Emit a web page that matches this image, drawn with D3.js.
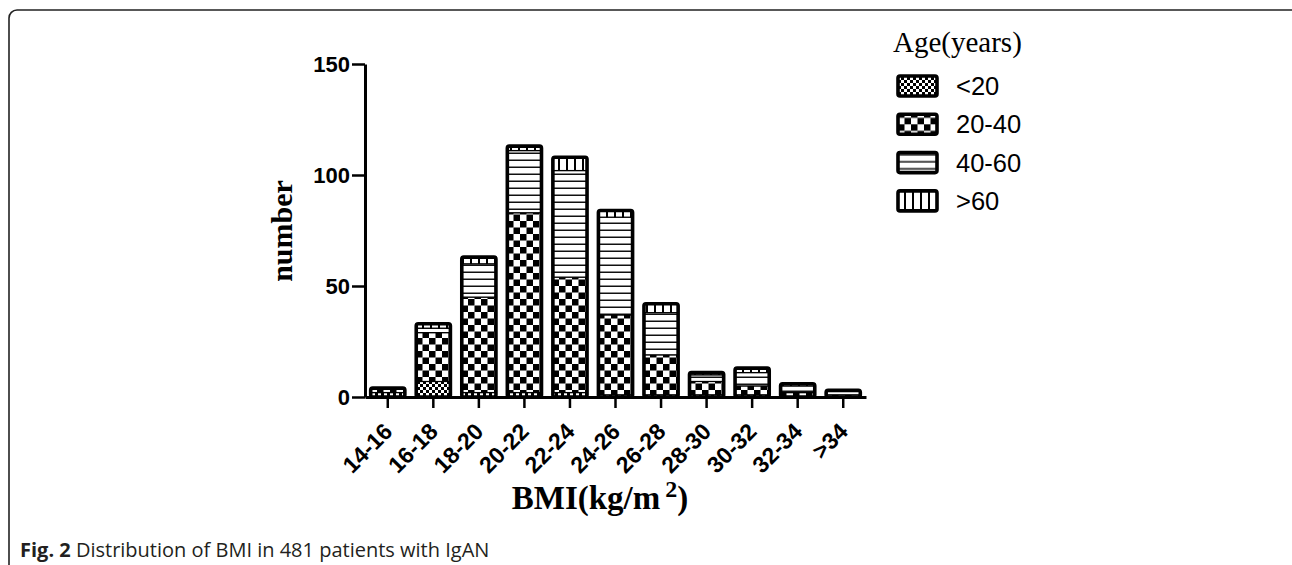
<!DOCTYPE html>
<html>
<head>
<meta charset="utf-8">
<script src="https://cdn.jsdelivr.net/npm/d3@7"></script>
<style>
  html, body { margin: 0; padding: 0; background: #fff; }
  svg { display: block; }
</style>
</head>
<body>
<svg id="chart" width="1292" height="565"></svg>
<script>
// BMI classes and counts per age group (bottom to top of each stack)
const categories = ['14-16', '16-18', '18-20', '20-22', '22-24', '24-26', '26-28', '28-30', '30-32', '32-34', '>34']
const under20 = [2, 7, 2, 2, 2, 1, 1, 1, 1, 0, 0]
const age20to40 = [2, 22, 43, 81, 52, 36, 18, 6, 4, 2, 1]
const age40to60 = [0, 2, 15, 28, 48, 44, 19, 3, 6, 3, 2]
const over60 = [0, 2, 3, 2, 6, 3, 4, 1, 2, 1, 0]
const groupNames = ['<20', '20-40', '40-60', '>60']
const yTicks = [0, 50, 100, 150]

const sans = '"Liberation Sans", Arial, sans-serif'
const serif = '"Liberation Serif", "Times New Roman", serif'

const svg = d3.select('#chart')

// frame round the figure
svg.append('rect')
  .attr('x', 9).attr('y', 10)
  .attr('width', 1290).attr('height', 620)
  .attr('rx', 8)
  .attr('fill', 'none')
  .attr('stroke', '#222')
  .attr('stroke-width', 1.6)

// fill patterns, one per age group
const defs = svg.append('defs')
const patternIds = ['p-under20', 'p-20-40', 'p-40-60', 'p-over60']

const pFine = defs.append('pattern').attr('id', patternIds[0])
  .attr('patternUnits', 'userSpaceOnUse').attr('width', 6).attr('height', 6)
pFine.append('rect').attr('width', 6).attr('height', 6).attr('fill', '#fff')
pFine.append('rect').attr('width', 3).attr('height', 3).attr('fill', '#000')
pFine.append('rect').attr('x', 3).attr('y', 3).attr('width', 3).attr('height', 3).attr('fill', '#000')

const pCheck = defs.append('pattern').attr('id', patternIds[1])
  .attr('patternUnits', 'userSpaceOnUse').attr('width', 13).attr('height', 13)
pCheck.append('rect').attr('width', 13).attr('height', 13).attr('fill', '#fff')
pCheck.append('rect').attr('width', 6.5).attr('height', 6.5).attr('fill', '#000')
pCheck.append('rect').attr('x', 6.5).attr('y', 6.5).attr('width', 6.5).attr('height', 6.5).attr('fill', '#000')

const pHoriz = defs.append('pattern').attr('id', patternIds[2])
  .attr('patternUnits', 'userSpaceOnUse').attr('width', 8).attr('height', 7)
pHoriz.append('rect').attr('width', 8).attr('height', 7).attr('fill', '#fff')
pHoriz.append('rect').attr('y', 5.5).attr('width', 8).attr('height', 1.5).attr('fill', '#111')

const pVert = defs.append('pattern').attr('id', patternIds[3])
  .attr('patternUnits', 'userSpaceOnUse').attr('width', 8).attr('height', 8)
pVert.append('rect').attr('width', 8).attr('height', 8).attr('fill', '#fff')
pVert.append('rect').attr('x', 6).attr('width', 2).attr('height', 8).attr('fill', '#000')

// scales
const x = d3.scaleBand()
  .domain(categories)
  .range([365, 866])
  .paddingInner(0.25)
  .paddingOuter(0.125)

const y = d3.scaleLinear()
  .domain([0, 150])
  .range([397, 64])

// stacked data
const rows = categories.map((c, i) => ({
  cat: c, g0: under20[i], g1: age20to40[i], g2: age40to60[i], g3: over60[i]
}))
const stack = d3.stack().keys(['g0', 'g1', 'g2', 'g3'])
const series = stack(rows)

const barsG = svg.append('g')

series.forEach((s, si) => {
  barsG.append('g')
    .selectAll('rect')
    .data(s)
    .join('rect')
      .attr('x', d => x(d.data.cat))
      .attr('width', x.bandwidth())
      .attr('y', d => y(d[1]))
      .attr('height', d => y(d[0]) - y(d[1]))
      .attr('fill', `url(#${patternIds[si]})`)
      .attr('stroke', '#000')
      .attr('stroke-width', 1.2)
})

// thick outline round each whole bar
barsG.append('g')
  .selectAll('rect')
  .data(rows)
  .join('rect')
    .attr('x', d => x(d.cat))
    .attr('width', x.bandwidth())
    .attr('y', d => y(d.g0 + d.g1 + d.g2 + d.g3))
    .attr('height', d => y(0) - y(d.g0 + d.g1 + d.g2 + d.g3))
    .attr('rx', 2)
    .attr('fill', 'none')
    .attr('stroke', '#000')
    .attr('stroke-width', 3.6)

// y axis
const yAxis = svg.append('g')
  .attr('transform', 'translate(365,0)')
  .call(d3.axisLeft(y).tickValues(yTicks).tickSize(13).tickSizeOuter(0).tickPadding(2))

yAxis.select('.domain').attr('stroke-width', 3)
yAxis.selectAll('.tick line').attr('stroke-width', 2.5)
yAxis.selectAll('.tick text')
  .attr('font-family', sans)
  .attr('font-weight', 'bold')
  .attr('font-size', 22)
  .attr('fill', '#000')

// x axis
const xAxis = svg.append('g')
  .attr('transform', `translate(0,${y(0)})`)
  .call(d3.axisBottom(x).tickSize(11).tickSizeOuter(0))

xAxis.select('.domain').attr('stroke-width', 3)
xAxis.selectAll('.tick line').attr('stroke-width', 2.5)
xAxis.selectAll('.tick text')
  .attr('font-family', sans)
  .attr('font-weight', 'bold')
  .attr('font-size', 23)
  .attr('fill', '#000')
  .attr('text-anchor', 'end')
  .attr('dy', null)
  .attr('y', 0)
  .attr('transform', 'translate(6,36) rotate(-45)')

// axis titles
svg.append('text')
  .attr('transform', 'translate(292,231) rotate(-90)')
  .attr('text-anchor', 'middle')
  .attr('font-family', serif)
  .attr('font-weight', 'bold')
  .attr('font-size', 30)
  .text('number')

const xTitle = svg.append('text')
  .attr('x', 600).attr('y', 509)
  .attr('text-anchor', 'middle')
  .attr('font-family', serif)
  .attr('font-weight', 'bold')
  .attr('font-size', 33)
xTitle.append('tspan').text('BMI(kg/m')
xTitle.append('tspan').attr('dx', 5).attr('dy', -12).attr('font-size', 24).text('2')
xTitle.append('tspan').attr('dy', 12).text(')')

// legend
svg.append('text')
  .attr('x', 893).attr('y', 52)
  .attr('font-family', serif)
  .attr('font-size', 29)
  .text('Age(years)')

const legendG = svg.append('g')
  .selectAll('g')
  .data(groupNames)
  .join('g')
    .attr('transform', (d, i) => `translate(898,${86 + i * 38.3})`)

legendG.append('rect')
  .attr('x', 0).attr('y', -10)
  .attr('width', 39).attr('height', 20)
  .attr('rx', 2)
  .attr('fill', (d, i) => `url(#${patternIds[i]})`)
  .attr('stroke', '#000')
  .attr('stroke-width', 3.6)

legendG.append('text')
  .attr('x', 58).attr('y', 0)
  .attr('dy', '0.36em')
  .attr('font-family', sans)
  .attr('font-size', 25.5)
  .text(d => d)

// caption
const caption = svg.append('text')
  .attr('x', 20).attr('y', 557)
  .attr('font-family', '"Open Sans", sans-serif')
  .attr('font-size', 20)
  .attr('fill', '#231f20')
caption.append('tspan').attr('font-weight', 'bold').text('Fig. 2')
caption.append('tspan').text(' Distribution of BMI in 481 patients with IgAN')
</script>
</body>
</html>
